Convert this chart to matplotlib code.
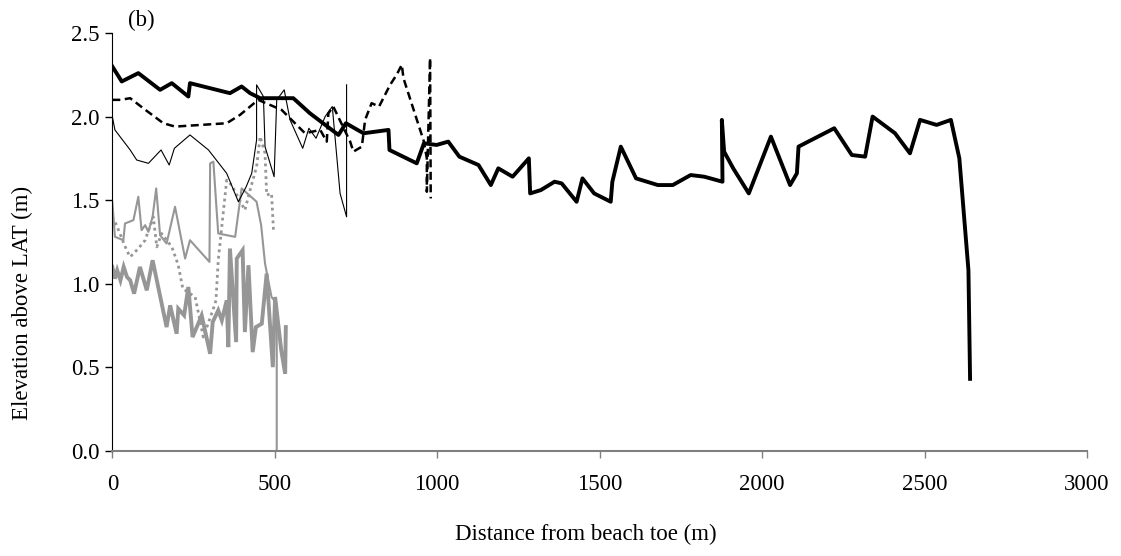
import matplotlib
matplotlib.use("Agg")
import matplotlib.pyplot as plt

# profile data (distance m, elevation m above LAT)
blk_thick_x = [0, 29, 80, 147, 183, 234, 239, 362, 398, 424, 455, 557, 608, 696, 719, 773, 850, 853,
               937, 959, 998, 1034, 1068, 1127, 1165, 1188, 1232, 1282, 1286, 1319, 1361, 1383, 1429,
               1447, 1483, 1534, 1539, 1565, 1612, 1679, 1725, 1780, 1822, 1878, 1876, 1883, 1911,
               1959, 2027, 2086, 2107, 2112, 2222, 2276, 2317, 2340, 2409, 2455, 2486, 2537, 2581,
               2607, 2635, 2640]
blk_thick_y = [2.30, 2.21, 2.26, 2.16, 2.20, 2.12, 2.20, 2.14, 2.18, 2.14, 2.11, 2.11, 2.02, 1.89,
               1.96, 1.90, 1.92, 1.80, 1.72, 1.84, 1.83, 1.85, 1.76, 1.71, 1.59, 1.69, 1.64, 1.75,
               1.54, 1.56, 1.61, 1.60, 1.49, 1.63, 1.54, 1.49, 1.61, 1.82, 1.63, 1.59, 1.59, 1.65,
               1.64, 1.61, 1.98, 1.79, 1.69, 1.54, 1.88, 1.59, 1.66, 1.82, 1.93, 1.77, 1.76, 2.00,
               1.90, 1.78, 1.98, 1.95, 1.98, 1.75, 1.08, 0.43]

blk_dash_x = [0, 25, 55, 95, 157, 193, 352, 393, 449, 521, 593, 640, 660, 665, 680, 732, 742, 768,
              778, 798, 821, 855, 875, 891, 896, 959, 968, 968, 978, 980]
blk_dash_y = [2.10, 2.10, 2.11, 2.05, 1.96, 1.94, 1.96, 2.01, 2.10, 2.04, 1.90, 1.92, 1.85, 2.02,
              2.06, 1.85, 1.79, 1.82, 1.98, 2.08, 2.06, 2.19, 2.25, 2.31, 2.23, 1.85, 1.75, 1.55,
              2.35, 1.51]

blk_thin_x = [0, 8, 55, 75, 111, 150, 175, 191, 239, 296, 352, 388, 412, 429, 444, 444, 465, 470,
              498, 506, 529, 547, 586, 605, 627, 655, 677, 701, 721, 721]
blk_thin_y = [2.00, 1.92, 1.80, 1.74, 1.72, 1.80, 1.71, 1.81, 1.89, 1.80, 1.66, 1.49, 1.58, 1.66,
              1.86, 2.19, 2.12, 1.82, 1.64, 2.10, 2.16, 1.98, 1.81, 1.93, 1.87, 2.00, 2.06, 1.54,
              1.40, 2.19]

grey_thin_x = [0, 8, 34, 39, 65, 80, 90, 101, 111, 124, 135, 147, 167, 193, 224, 239, 299, 301,
               311, 321, 326, 378, 398, 444, 458, 470, 490, 506, 506]
grey_thin_y = [1.49, 1.28, 1.26, 1.36, 1.38, 1.52, 1.32, 1.35, 1.31, 1.40, 1.57, 1.29, 1.24, 1.46,
               1.15, 1.26, 1.13, 1.72, 1.73, 1.44, 1.30, 1.28, 1.57, 1.49, 1.35, 1.12, 0.92, 0.88,
               0.0]

grey_dot_x = [0, 13, 44, 55, 80, 101, 126, 137, 152, 183, 203, 217, 255, 280, 311, 319, 326, 352,
              367, 408, 424, 444, 455, 470, 475, 490, 496]
grey_dot_y = [1.40, 1.35, 1.20, 1.16, 1.21, 1.26, 1.40, 1.22, 1.30, 1.22, 1.11, 0.97, 0.92, 0.68,
              0.85, 0.90, 1.14, 1.62, 1.59, 1.44, 1.56, 1.70, 1.88, 1.78, 1.53, 1.54, 1.32]

grey_thick_x = [0, 8, 15, 25, 35, 45, 55, 67, 85, 106, 124, 167, 178, 198, 203, 221, 234, 247, 275,
                301, 309, 326, 337, 352, 357, 362, 381, 383, 401, 408, 419, 432, 442, 460, 475,
                494, 501, 520, 532, 534]
grey_thick_y = [1.10, 1.03, 1.08, 1.02, 1.10, 1.04, 1.02, 0.94, 1.10, 0.96, 1.14, 0.74, 0.87, 0.70,
                0.85, 0.81, 0.98, 0.68, 0.81, 0.58, 0.77, 0.84, 0.78, 0.90, 0.62, 1.21, 0.65, 1.15,
                1.20, 0.71, 1.11, 0.59, 0.74, 0.76, 1.06, 0.50, 0.92, 0.60, 0.46, 0.74]

plt.rcParams['font.family'] = ['Liberation Serif', 'DejaVu Serif']
grey = '#969696'
fs = 16.5

fig = plt.figure(figsize=(11.21, 5.56), dpi=100)
ax = fig.add_axes([0.1002, 0.1894, 0.8695, 0.7512])

ax.plot(grey_thick_x, grey_thick_y, color=grey, lw=2.8, solid_joinstyle='miter')
ax.plot(grey_dot_x, grey_dot_y, color=grey, lw=2.0, ls=(0, (1.0, 1.3)))
ax.plot(grey_thin_x, grey_thin_y, color=grey, lw=1.5)
ax.plot(blk_thin_x, blk_thin_y, color='black', lw=0.8)
ax.plot(blk_dash_x, blk_dash_y, color='black', lw=1.8, ls=(0, (3.2, 1.8)))
ax.plot(blk_thick_x, blk_thick_y, color='black', lw=2.8)

ax.set_xlim(0, 3000)
ax.set_ylim(0, 2.5)
ax.set_xticks([0, 500, 1000, 1500, 2000, 2500, 3000])
ax.set_yticks([0, 0.5, 1.0, 1.5, 2.0, 2.5])
ax.set_yticklabels(['0.0', '0.5', '1.0', '1.5', '2.0', '2.5'])
ax.tick_params(axis='both', labelsize=fs, direction='out', length=5, width=1)
ax.tick_params(axis='x', colors='#808080', labelcolor='black', pad=12)
ax.tick_params(axis='y', pad=4)

ax.spines['top'].set_visible(False)
ax.spines['right'].set_visible(False)
ax.spines['bottom'].set_color('#808080')
ax.spines['bottom'].set_linewidth(1.5)
ax.spines['left'].set_color('black')

fig.text(0.523, 0.02, 'Distance from beach toe (m)', fontsize=fs, ha='center', va='bottom')
fig.text(0.02, 0.455, 'Elevation above LAT (m)', fontsize=fs, rotation=90, ha='center', va='center')
ax.text(0.016, 1.03, '(b)', transform=ax.transAxes, fontsize=fs, ha='left', va='center')

fig.savefig('out.png', dpi=100)
